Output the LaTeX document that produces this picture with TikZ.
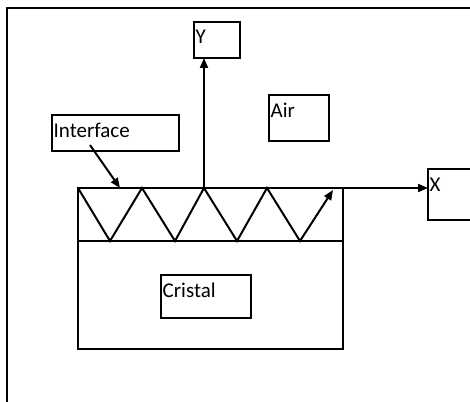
\documentclass[tikz,border=0pt]{standalone}
\usepackage{fontspec}
\setmainfont{Carlito}
\usepackage{tikz}
\usetikzlibrary{arrows.meta, positioning, calc}
\tikzset{
  box/.style={rectangle, draw=black, line width=2pt, outer sep=0pt,
    inner sep=0pt, anchor=north west},
  boxtext/.style={anchor=base west, inner sep=0pt, xshift=1.5pt, yshift=-22pt,
    font=\fontsize{21}{24}\selectfont},
  arrow/.style={-{Triangle[length=10pt, width=8pt]}, line width=2pt},
  line/.style={line width=2pt}
}

\begin{document}
\begin{tikzpicture}[x=1pt, y=-1pt]
  \clip (0,0) rectangle (470,401);
  % Outer frame
  \draw[line] (7,420) -- (7,8) -- (480,8);

  % Crystal block with interface layer
  \node[box, minimum width=265pt, minimum height=161pt] (crys) at (78,188) {};
  \draw[line] (78,241) -- (343,241);
  \coordinate (origin) at (204,188);
  \coordinate (ifpt) at (120,188);

  % Labels
  \node[box, minimum width=46pt, minimum height=36pt,
    label={[boxtext]north west:Y}] (ybox) at (194,22) {};
  \node[box, minimum width=60pt, minimum height=46pt,
    label={[boxtext]north west:Air}] (airbox) at (269,95) {};
  \node[box, minimum width=127pt, minimum height=36pt,
    label={[boxtext]north west:Interface}] (ifbox) at (52,115) {};
  \node[box, minimum width=90pt, minimum height=43pt,
    label={[boxtext]north west:Cristal}] (cbox) at (161,275) {};
  \node[box, minimum width=60pt, minimum height=51pt,
    label={[boxtext]north west:X}] (xbox) at (428,169) {};

  % Axes
  \draw[arrow] (origin) -- (origin |- ybox.south);
  \draw[arrow] (crys.north east) -- (crys.north east -| xbox.west);
  \draw[arrow] ($(ifbox.south west)+(38,-6)$) -- (ifpt);

  % Zigzag path in the layer
  \draw[arrow] (78,188) -- (110,241) -- (142,188) -- (175,241) -- (204,188)
    -- (237,241) -- (267,188) -- (300,241) -- (333,190);
\end{tikzpicture}
\end{document}
